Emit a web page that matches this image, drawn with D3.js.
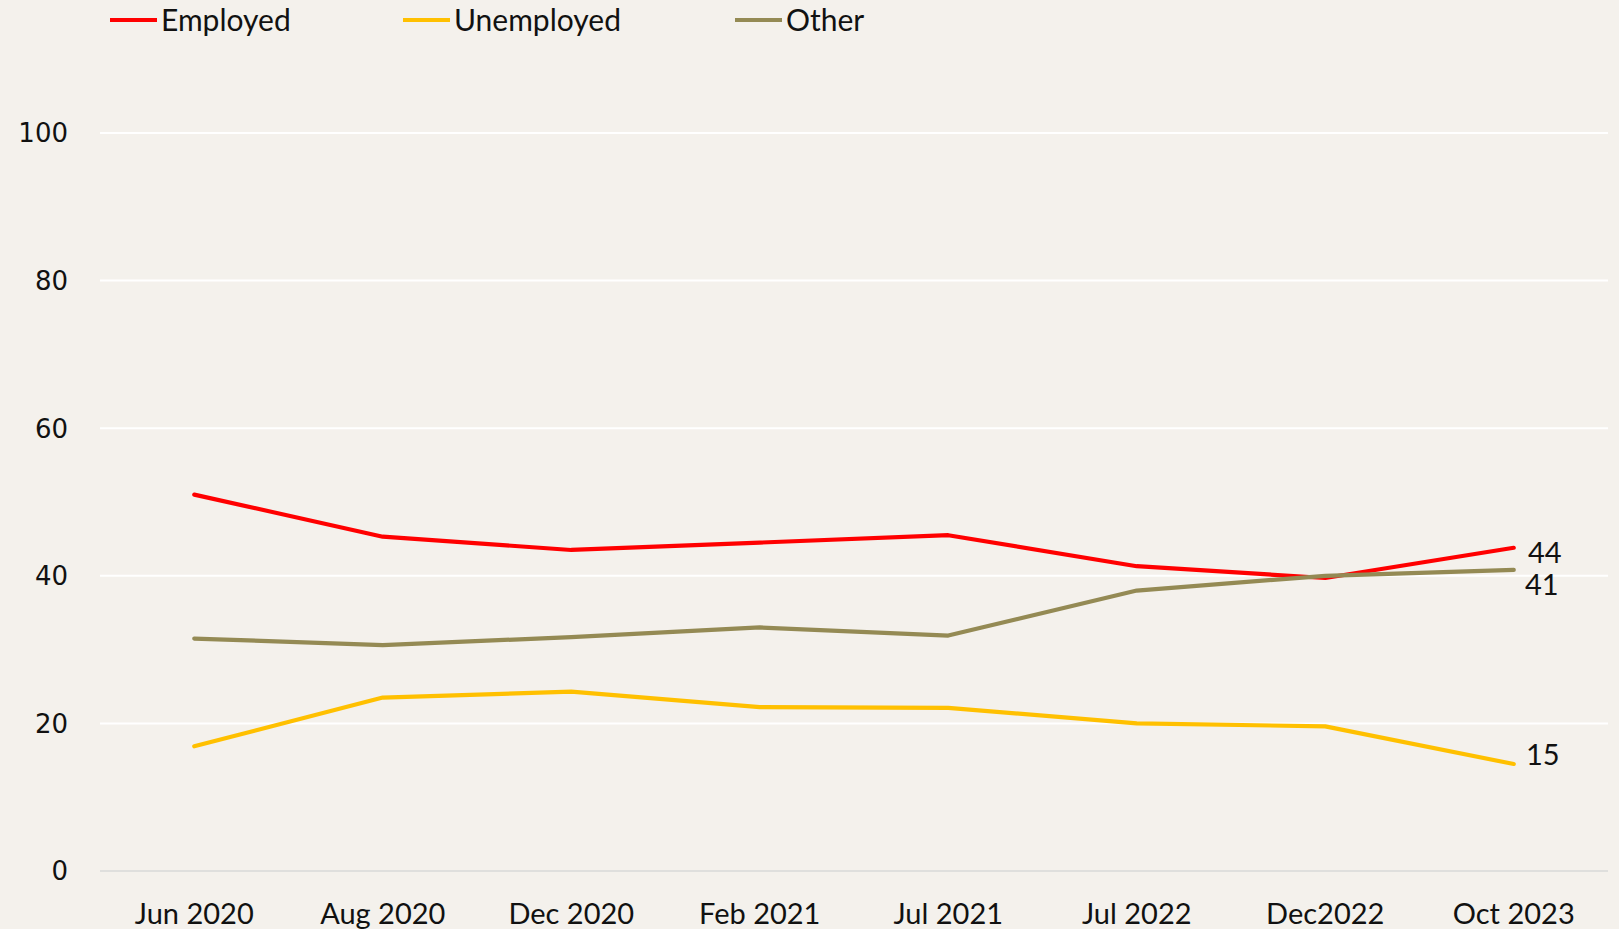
<!DOCTYPE html>
<html><head><meta charset="utf-8">
<script src="https://cdn.jsdelivr.net/npm/d3@7"></script>
<style>
html,body{margin:0;padding:0;background:#F4F1EC;}
svg{display:block;}
</style></head>
<body>
<svg id="chart" width="1619" height="929"></svg>
<script>
const categories = ["Jun 2020","Aug 2020","Dec 2020","Feb 2021","Jul 2021","Jul 2022","Dec2022","Oct 2023"];
const employed   = [51.0, 45.3, 43.5, 44.5, 45.5, 41.3, 39.7, 43.8];
const unemployed = [16.9, 23.5, 24.3, 22.2, 22.1, 20.0, 19.6, 14.5];
const other      = [31.5, 30.6, 31.7, 33.0, 31.9, 38.0, 40.0, 40.8];
const yTicks = [0, 20, 40, 60, 80, 100];
const seriesNames = ["Employed","Unemployed","Other"];
const endLabels = ["44","15","41"];

(function () {
const series = [
  {name: seriesNames[0], values: employed,   color: "#FF0000", label: endLabels[0]},
  {name: seriesNames[1], values: unemployed, color: "#FFC000", label: endLabels[1]},
  {name: seriesNames[2], values: other,      color: "#948A54", label: endLabels[2]}
];

const svg = d3.select("#chart");
const mLeft = 100, mRight = 1608, mTop = 133, mBottom = 871;

const x = d3.scaleBand().domain(categories).range([mLeft, mRight]).padding(0);
const y = d3.scaleLinear().domain([0, 100]).range([mBottom, mTop]);
const cx = c => x(c) + x.bandwidth() / 2;

// gridlines
svg.append("g").selectAll("line").data(yTicks.filter(t => t > 0)).join("line")
  .attr("x1", mLeft).attr("x2", mRight)
  .attr("y1", d => y(d)).attr("y2", d => y(d))
  .attr("stroke", "#FFFFFF").attr("stroke-width", 2);

// baseline
svg.append("line").attr("x1", mLeft).attr("x2", mRight)
  .attr("y1", y(0)).attr("y2", y(0))
  .attr("stroke", "#D9D9D9").attr("stroke-width", 1.5);

// y tick labels
svg.append("g").selectAll("text").data(yTicks).join("text")
  .attr("x", 68).attr("y", d => y(d))
  .attr("dy", "0.36em")
  .attr("text-anchor", "end")
  .attr("font-family", "DejaVu Sans")
  .attr("font-size", 26)
  .attr("fill", "#111")
  .text(d => d);

// x tick labels
svg.append("g").selectAll("text").data(categories).join("text")
  .attr("x", d => cx(d)).attr("y", 924)
  .attr("text-anchor", "middle")
  .attr("font-family", "Lato")
  .attr("font-size", 29)
  .attr("fill", "#111")
  .text(d => d);

// lines
const line = d3.line().x((d, i) => cx(categories[i])).y(d => y(d));
svg.append("g").selectAll("path").data(series).join("path")
  .attr("d", d => line(d.values))
  .attr("fill", "none")
  .attr("stroke", d => d.color)
  .attr("stroke-width", 4.2)
  .attr("stroke-linejoin", "round")
  .attr("stroke-linecap", "round");

// end labels
const endPos = {"Employed": 553, "Unemployed": 755, "Other": 585};
const endX = {"Employed": 1528, "Unemployed": 1526, "Other": 1525};
svg.append("g").selectAll("text").data(series).join("text")
  .attr("x", d => endX[d.name])
  .attr("y", d => endPos[d.name])
  .attr("dy", "0.36em")
  .attr("font-family", "Lato")
  .attr("font-size", 29)
  .attr("fill", "#111")
  .text(d => d.label);

// legend
const legendX = [110, 403, 735];
const lg = svg.append("g").selectAll("g").data(series).join("g")
  .attr("transform", (d, i) => `translate(${legendX[i]},20)`);
lg.append("line").attr("x1", 0).attr("x2", 47).attr("y1", 0).attr("y2", 0)
  .attr("stroke", d => d.color).attr("stroke-width", 4);
lg.append("text").attr("x", 51).attr("y", 0).attr("dy", "0.36em")
  .attr("font-family", "Lato")
  .attr("font-size", 30)
  .attr("fill", "#111")
  .text(d => d.name);
})();
</script>
</body></html>
